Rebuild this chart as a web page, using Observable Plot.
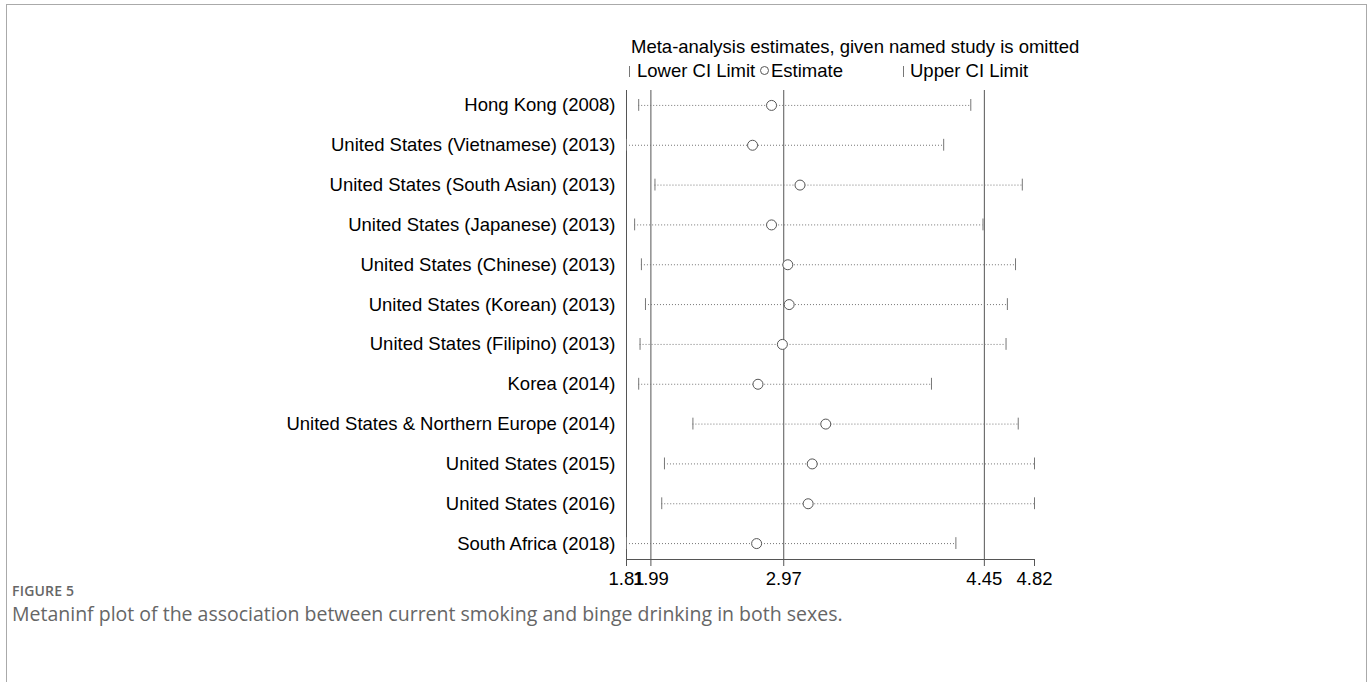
<!DOCTYPE html>
<html>
<head>
<meta charset="utf-8">
<script src="https://cdn.jsdelivr.net/npm/d3@7"></script>
<script src="https://cdn.jsdelivr.net/npm/@observablehq/plot@0.6"></script>
<style>
  html, body { margin: 0; padding: 0; background: #fff; }
  #page { position: relative; width: 1371px; height: 682px; overflow: hidden; }
  #frame { position: absolute; left: 6px; top: 4px; width: 1359px; height: 720px;
           border: 1.5px solid #aaa; border-bottom: none; }
  .t { position: absolute; font: 18.5px "Liberation Sans", Arial, sans-serif; color: #000; white-space: nowrap; line-height: 1; }
  .bar { position: absolute; width: 1px; height: 11px; background: #777; }
  .ring { position: absolute; width: 7px; height: 7px; border: 1px solid #555; border-radius: 50%; }
  #chart { position: absolute; left: 0; top: 0; }
  #fig { position: absolute; left: 12px; top: 581px; font: 600 14px "Open Sans", sans-serif; color: #666; letter-spacing: 0.2px; }
  #caption { position: absolute; left: 12px; top: 600px; font: 19.5px "Open Sans", sans-serif; color: #666; white-space: nowrap; }
</style>
</head>
<body>
<div id="page">
  <div id="frame"></div>
  <div id="chart"></div>
  <div class="t" style="left:631px; top:38px">Meta-analysis estimates, given named study is omitted</div>
  <div class="bar" style="left:629px; top:66px"></div>
  <div class="t" style="left:637px; top:62px">Lower CI Limit</div>
  <div class="ring" style="left:760px; top:66px"></div>
  <div class="t" style="left:771px; top:62px">Estimate</div>
  <div class="bar" style="left:903px; top:66px"></div>
  <div class="t" style="left:910px; top:62px">Upper CI Limit</div>
  <div id="fig">FIGURE 5</div>
  <div id="caption">Metaninf plot of the association between current smoking and binge drinking in both sexes.</div>
</div>
<script>
// Omitted study for each leave-one-out re-estimate
const studies = [
  "Hong Kong (2008)",
  "United States (Vietnamese) (2013)",
  "United States (South Asian) (2013)",
  "United States (Japanese) (2013)",
  "United States (Chinese) (2013)",
  "United States (Korean) (2013)",
  "United States (Filipino) (2013)",
  "Korea (2014)",
  "United States & Northern Europe (2014)",
  "United States (2015)",
  "United States (2016)",
  "South Africa (2018)"
];
const lowerCI  = [1.90, 1.81, 2.02, 1.87, 1.92, 1.95, 1.91, 1.90, 2.30, 2.09, 2.07, 1.81];
const estimate = [2.88, 2.74, 3.09, 2.88, 3.00, 3.01, 2.96, 2.78, 3.28, 3.18, 3.15, 2.77];
const upperCI  = [4.35, 4.15, 4.73, 4.44, 4.68, 4.62, 4.61, 4.06, 4.70, 4.82, 4.82, 4.24];

// Pooled estimate with all studies included
const overallLower = 1.99;
const overallEstimate = 2.97;
const overallUpper = 4.45;

// Axis extent and tick labels
const axisMin = 1.81;
const axisMax = 4.82;
const xTicks = [1.81, 1.99, 2.97, 4.45, 4.82];

const rows = studies.map((s, i) => ({study: s, lo: lowerCI[i], est: estimate[i], hi: upperCI[i]}));

// Row bands fill the frame; the reference lines and the axis line stop a little inside it
const chart = Plot.plot({
  width: 1371,
  height: 600,
  marginLeft: 626,
  marginRight: 337,
  marginTop: 85,
  marginBottom: 37,
  style: {fontFamily: "'Liberation Sans', Arial, sans-serif", fontSize: "18.5px", color: "#000", background: "transparent"},
  x: {domain: [axisMin, axisMax]},
  y: {type: "band", domain: studies, padding: 0, round: false},
  marks: [
    Plot.ruleX([axisMin, overallLower, overallEstimate, overallUpper], {stroke: "#555", strokeWidth: 1, insetTop: 5, insetBottom: 4}),
    Plot.frame({anchor: "bottom", stroke: "#555", strokeWidth: 1, insetBottom: 4}),
    Plot.ruleY(rows, {y: "study", x1: "lo", x2: "hi", stroke: "#777", strokeWidth: 1, strokeDasharray: "1,2"}),
    Plot.tickX(rows, {x: "lo", y: "study", stroke: "#777", insetTop: 14, insetBottom: 14}),
    Plot.tickX(rows, {x: "hi", y: "study", stroke: "#777", insetTop: 14, insetBottom: 14}),
    Plot.dot(rows, {x: "est", y: "study", r: 5, stroke: "#555", strokeWidth: 1, fill: "white"}),
    Plot.axisY({tickSize: 0, tickPadding: 11, label: null, fontSize: 18.5}),
    Plot.axisX({ticks: xTicks, tickFormat: d3.format(".2f"), tickSize: 7, tickPadding: 5, label: null, fontSize: 18.5, stroke: "#555", dy: -4})
  ]
});
document.getElementById("chart").appendChild(chart);
</script>
</body>
</html>
